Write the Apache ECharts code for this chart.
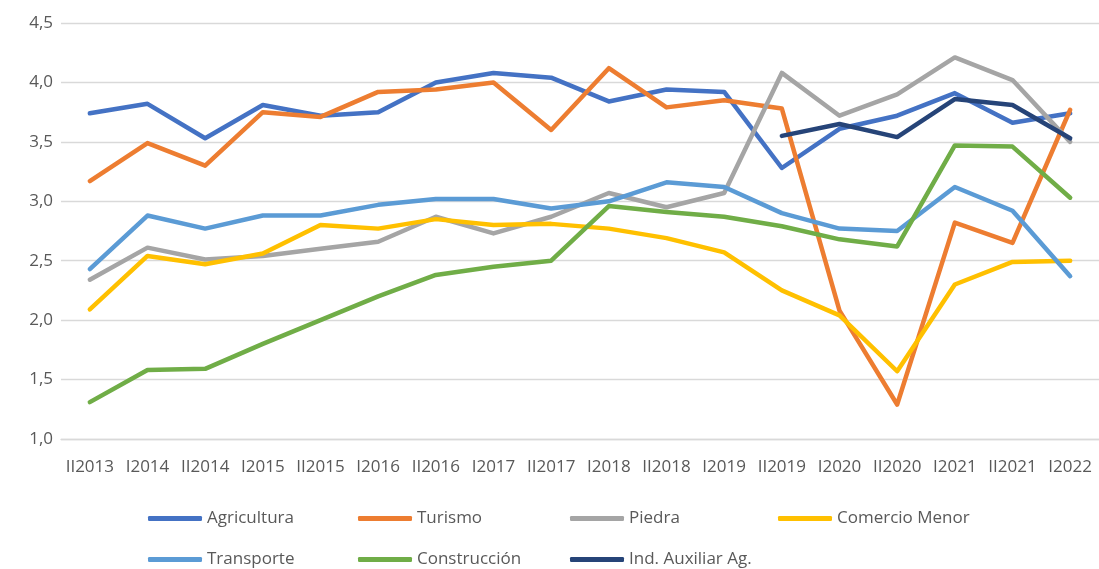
<!DOCTYPE html>
<html>
<head>
<meta charset="utf-8">
<script src="https://cdn.jsdelivr.net/npm/echarts@6/dist/echarts.min.js"></script>
<style>
  html, body {margin:0; padding:0; background:#fff;}
  #line1 {width:1099px; height:569px;}
</style>
</head>
<body>
<div id="line1"></div>
<script>
var periods = ['II2013','I2014','II2014','I2015','II2015','I2016','II2016','I2017','II2017','I2018','II2018','I2019','II2019','I2020','II2020','I2021','II2021','I2022'];
var yTicks = [1.0, 4.5, 0.5]; // min, max, interval

var agricultura  = [3.74, 3.82, 3.53, 3.81, 3.72, 3.75, 4.00, 4.08, 4.04, 3.84, 3.94, 3.92, 3.28, 3.61, 3.72, 3.91, 3.66, 3.74];
var turismo      = [3.17, 3.49, 3.30, 3.75, 3.71, 3.92, 3.94, 4.00, 3.60, 4.12, 3.79, 3.85, 3.78, 2.08, 1.29, 2.82, 2.65, 3.77];
var piedra       = [2.34, 2.61, 2.51, 2.54, 2.60, 2.66, 2.87, 2.73, 2.87, 3.07, 2.95, 3.07, 4.08, 3.72, 3.90, 4.21, 4.02, 3.50];
var comercio     = [2.09, 2.54, 2.47, 2.56, 2.80, 2.77, 2.85, 2.80, 2.81, 2.77, 2.69, 2.57, 2.25, 2.04, 1.57, 2.30, 2.49, 2.50];
var transporte   = [2.43, 2.88, 2.77, 2.88, 2.88, 2.97, 3.02, 3.02, 2.94, 3.00, 3.16, 3.12, 2.90, 2.77, 2.75, 3.12, 2.92, 2.37];
var construccion = [1.31, 1.58, 1.59, 1.80, 2.00, 2.20, 2.38, 2.45, 2.50, 2.96, 2.91, 2.87, 2.79, 2.68, 2.62, 3.47, 3.46, 3.03];
var indAuxiliar  = ['-', '-', '-', '-', '-', '-', '-', '-', '-', '-', '-', '-', 3.55, 3.65, 3.54, 3.86, 3.81, 3.53];

var seriesNames = ['Agricultura','Turismo','Piedra','Comercio Menor','Transporte','Construcción','Ind. Auxiliar Ag.'];
var seriesData = [agricultura, turismo, piedra, comercio, transporte, construccion, indAuxiliar];
var colors = ['#4472C4','#ED7D31','#A5A5A5','#FFC000','#5B9BD5','#70AD47','#264478'];

(function setline(){
    var chartLine = echarts.init(document.getElementById('line1'));
    var font = '"Open Sans", Lato, sans-serif';

    // one legend per item, so the columns line up like the original
    var legendPos = [[148,510],[358,510],[570,510],[778,510],[148,551],[358,551],[570,551]];
    var legends = seriesNames.map(function(name, i){
        return {
            data: [name],
            left: legendPos[i][0],
            top: legendPos[i][1],
            padding: 0,
            icon: 'roundRect',
            itemWidth: 54,
            itemHeight: 5,
            textStyle: {fontSize: 17, color: '#595959', fontFamily: font},
            selectedMode: false
        };
    });

    var series = seriesNames.map(function(name, i){
        return {
            name: name,
            type: 'line',
            data: seriesData[i],
            symbol: 'none',
            color: colors[i],
            lineStyle: {width: 4.5, cap: 'round', join: 'round'},
            connectNulls: false,
            animation: false
        };
    });

    var option = {
        color: colors,
        grid: {left: 61, right: 0, top: 23, bottom: 130},
        legend: legends,
        xAxis: [
            {
                type: 'category',
                data: periods,
                boundaryGap: true,
                axisLine: {show: true, lineStyle: {color: '#d9d9d9', width: 1.3}},
                axisTick: {show: false},
                axisLabel: {interval: 0, margin: 20, fontSize: 17, color: '#595959', fontFamily: font}
            }
        ],
        yAxis: [
            {
                type: 'value',
                min: yTicks[0],
                max: yTicks[1],
                interval: yTicks[2],
                axisLine: {show: false},
                axisTick: {show: false},
                splitLine: {lineStyle: {color: '#d9d9d9', width: 1.3}},
                axisLabel: {
                    margin: 8,
                    fontSize: 17,
                    color: '#595959',
                    fontFamily: font,
                    formatter: function(v){ return v.toFixed(1).replace('.', ','); }
                }
            }
        ],
        series: series
    };

    chartLine.setOption(option);
})();
</script>
</body>
</html>
